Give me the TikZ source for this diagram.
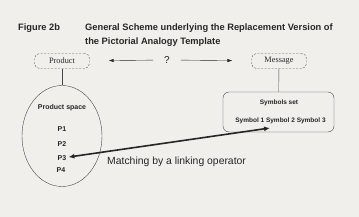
\documentclass[tikz,border=0pt]{standalone}
\usepackage{fontspec}
\setmainfont{Liberation Serif}
\setsansfont{Liberation Sans}
\usetikzlibrary{shapes.geometric,arrows.meta}
\definecolor{paper}{HTML}{F1EFEC}
\definecolor{ink}{HTML}{262626}

\begin{document}
\begin{tikzpicture}[x=1pt,y=-1pt,
  every node/.style={inner sep=0pt, text=ink},
  title/.style={anchor=west, font=\sffamily\bfseries\fontsize{9.3}{10}\selectfont},
  dashbox/.style={draw=ink!75, dash pattern=on 2pt off 1.5pt, rounded corners=5pt,
    minimum width=55pt, minimum height=15pt, font=\fontsize{8.3}{9}\selectfont},
  item/.style={font=\sffamily\bfseries\fontsize{6.5}{7}\selectfont},
  tip/.style={draw=ink, -{Latex[length=5pt,width=3.5pt]}},
  link/.style={draw=ink, line width=1.6pt, {Latex[length=6pt,width=5pt]}-{Latex[length=6pt,width=5pt]}}]
\useasboundingbox[fill=paper] (0,0) rectangle (359,217);
% heading
\node[title] (fig) at (18,28) {Figure 2b};
\node[title] (head1) at (85,28) {General Scheme underlying the Replacement Version of};
\node[title] (head2) at (85,42) {the Pictorial Analogy Template};
% top row
\node[dashbox] (product) at (62,61) {Product};
\node[dashbox] (message) at (279,61) {Message};
\node[font=\sffamily\fontsize{10}{10}\selectfont] (ask) at (167,60) {?};
\draw[tip, shorten <=11pt, shorten >=19pt] (ask) -- (product);
\draw[tip, shorten <=11pt, shorten >=19pt] (ask) -- (message);
% product space
\node[draw=ink!85, ellipse, minimum width=80pt, minimum height=101pt] (space) at (62,136) {};
\node[item, font=\sffamily\bfseries\fontsize{7}{7}\selectfont] (spacename) at (62,108) {Product space};
\node[item, font=\sffamily\bfseries\fontsize{7}{7}\selectfont] (p1) at (62,129) {P1};
\node[item, font=\sffamily\bfseries\fontsize{7}{7}\selectfont] (p2) at (62,144) {P2};
\node[item, font=\sffamily\bfseries\fontsize{7}{7}\selectfont] (p3) at (62,158) {P3};
\node[item, font=\sffamily\bfseries\fontsize{7}{7}\selectfont] (p4) at (61,170) {P4};
\draw[ink!85] (product) -- (space);
% symbols set
\node[draw=ink!85, rounded corners=6pt, minimum width=111pt, minimum height=40pt] (symset) at (278.5,112) {};
\node[item] (setname) at (279,103) {Symbols set};
\node[item] (symbols) at (280.5,121) {Symbol 1 Symbol 2 Symbol 3};
\draw[ink!85] (message) -- (symset);
% linking operator
\coordinate (hook) at (270,128);
\draw[link, shorten >=2pt] (hook) -- (p3);
\node[anchor=west, font=\sffamily\fontsize{10.4}{11}\selectfont] (match) at (107,162) {Matching by a linking operator};
\end{tikzpicture}
\end{document}
